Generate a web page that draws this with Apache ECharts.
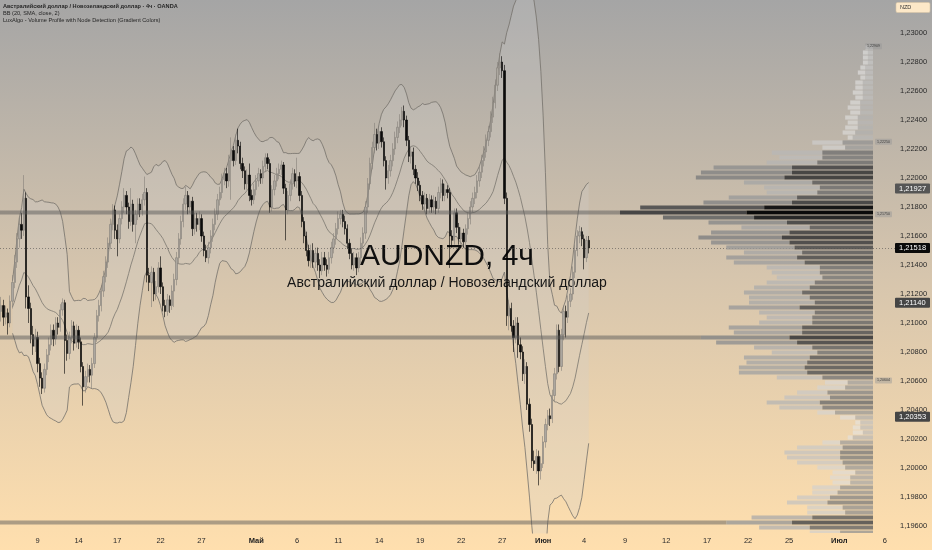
<!DOCTYPE html>
<html><head><meta charset="utf-8">
<script src="https://cdn.jsdelivr.net/npm/echarts@6/dist/echarts.min.js"></script>
<style>html,body{margin:0;padding:0;overflow:hidden;}#c{width:932px;height:550px;}</style>
</head><body><div id="c"></div>
<script>
// ---- data: AUDNZD 4h candles [open, close, low, high] ----
const candles = [
[1.2108,1.2112,1.2101,1.2118],[1.2112,1.2104,1.2098,1.2116],[1.2104,1.2107,1.2099,1.2112],[1.2107,1.2100,1.2092,1.2110],
[1.2100,1.2115,1.2097,1.2119],[1.2115,1.2128,1.2110,1.2133],[1.2128,1.2142,1.2124,1.2147],[1.2142,1.2158,1.2138,1.2162],
[1.2158,1.2168,1.2152,1.2173],[1.2168,1.2164,1.2158,1.2176],[1.2164,1.2186,1.2160,1.2202],[1.2186,1.2118,1.2110,1.2190],
[1.2118,1.2110,1.2100,1.2126],[1.2110,1.2092,1.2086,1.2114],[1.2092,1.2084,1.2078,1.2098],[1.2084,1.2090,1.2080,1.2096],
[1.2090,1.2072,1.2066,1.2094],[1.2072,1.2062,1.2056,1.2076],[1.2062,1.2055,1.2051,1.2066],[1.2055,1.2068,1.2052,1.2072],
[1.2068,1.2078,1.2064,1.2082],[1.2078,1.2085,1.2073,1.2090],[1.2085,1.2095,1.2081,1.2099],[1.2095,1.2089,1.2084,1.2099],
[1.2089,1.2100,1.2085,1.2104],[1.2100,1.2097,1.2092,1.2104],[1.2097,1.2109,1.2094,1.2113],[1.2109,1.2114,1.2105,1.2117],
[1.2114,1.2088,1.2065,1.2116],[1.2088,1.2079,1.2074,1.2092],[1.2079,1.2090,1.2075,1.2094],[1.2090,1.2098,1.2086,1.2102],
[1.2098,1.2086,1.2081,1.2101],[1.2086,1.2095,1.2083,1.2099],[1.2095,1.2087,1.2082,1.2098],[1.2087,1.2070,1.2066,1.2090],
[1.2070,1.2056,1.2043,1.2073],[1.2056,1.2063,1.2052,1.2067],[1.2063,1.2068,1.2059,1.2072],[1.2068,1.2064,1.2059,1.2071],
[1.2064,1.2072,1.2055,1.2076],[1.2072,1.2090,1.2069,1.2093],[1.2090,1.2105,1.2087,1.2109],[1.2105,1.2112,1.2101,1.2116],
[1.2112,1.2122,1.2108,1.2126],[1.2122,1.2132,1.2118,1.2136],[1.2132,1.2142,1.2128,1.2146],[1.2142,1.2155,1.2138,1.2159],
[1.2155,1.2168,1.2151,1.2172],[1.2168,1.2178,1.2164,1.2182],[1.2178,1.2164,1.2158,1.2181],[1.2164,1.2158,1.2146,1.2168],
[1.2158,1.2172,1.2155,1.2175],[1.2172,1.2180,1.2168,1.2184],[1.2180,1.2188,1.2176,1.2193],[1.2188,1.2180,1.2175,1.2191],
[1.2180,1.2170,1.2165,1.2183],[1.2170,1.2182,1.2167,1.2193],[1.2182,1.2168,1.2163,1.2185],[1.2168,1.2175,1.2155,1.2178],
[1.2175,1.2182,1.2171,1.2186],[1.2182,1.2178,1.2173,1.2186],[1.2178,1.2185,1.2174,1.2189],[1.2185,1.2190,1.2181,1.2201],
[1.2190,1.2133,1.2128,1.2193],[1.2133,1.2128,1.2122,1.2138],[1.2128,1.2135,1.2111,1.2139],[1.2135,1.2120,1.2115,1.2138],
[1.2120,1.2125,1.2116,1.2129],[1.2125,1.2138,1.2121,1.2142],[1.2138,1.2125,1.2120,1.2146],[1.2125,1.2112,1.2108,1.2128],
[1.2112,1.2108,1.2104,1.2116],[1.2108,1.2116,1.2105,1.2120],[1.2116,1.2112,1.2107,1.2119],[1.2112,1.2122,1.2109,1.2126],
[1.2122,1.2130,1.2111,1.2134],[1.2130,1.2145,1.2126,1.2149],[1.2145,1.2158,1.2141,1.2162],[1.2158,1.2170,1.2154,1.2174],
[1.2170,1.2182,1.2166,1.2186],[1.2182,1.2188,1.2178,1.2194],[1.2188,1.2180,1.2175,1.2191],[1.2180,1.2184,1.2176,1.2188],
[1.2184,1.2165,1.2160,1.2187],[1.2165,1.2172,1.2161,1.2176],[1.2172,1.2168,1.2163,1.2176],[1.2168,1.2172,1.2164,1.2177],
[1.2172,1.2160,1.2156,1.2175],[1.2160,1.2150,1.2146,1.2163],[1.2150,1.2145,1.2142,1.2154],[1.2145,1.2152,1.2141,1.2156],
[1.2152,1.2160,1.2148,1.2164],[1.2160,1.2168,1.2156,1.2172],[1.2168,1.2175,1.2164,1.2179],[1.2175,1.2185,1.2171,1.2189],
[1.2185,1.2190,1.2181,1.2194],[1.2190,1.2199,1.2186,1.2203],[1.2199,1.2203,1.2195,1.2207],[1.2203,1.2198,1.2193,1.2207],
[1.2198,1.2212,1.2194,1.2216],[1.2212,1.2219,1.2185,1.2228],[1.2219,1.2212,1.2208,1.2222],[1.2212,1.2226,1.2209,1.2230],
[1.2226,1.2222,1.2217,1.2234],[1.2222,1.2210,1.2206,1.2225],[1.2210,1.2205,1.2200,1.2214],[1.2205,1.2196,1.2192,1.2208],
[1.2196,1.2202,1.2192,1.2206],[1.2202,1.2188,1.2184,1.2210],[1.2188,1.2185,1.2181,1.2192],[1.2185,1.2192,1.2182,1.2196],
[1.2192,1.2198,1.2188,1.2202],[1.2198,1.2203,1.2194,1.2207],[1.2203,1.2200,1.2196,1.2206],[1.2200,1.2208,1.2196,1.2212],
[1.2208,1.2214,1.2204,1.2217],[1.2214,1.2210,1.2206,1.2217],[1.2210,1.2180,1.2176,1.2213],[1.2180,1.2192,1.2177,1.2195],
[1.2192,1.2198,1.2188,1.2202],[1.2198,1.2203,1.2194,1.2207],[1.2203,1.2206,1.2199,1.2210],[1.2206,1.2209,1.2202,1.2212],
[1.2209,1.2193,1.2189,1.2211],[1.2193,1.2178,1.2157,1.2196],[1.2178,1.2188,1.2175,1.2191],[1.2188,1.2196,1.2184,1.2199],
[1.2196,1.2203,1.2192,1.2207],[1.2203,1.2198,1.2194,1.2206],[1.2198,1.2201,1.2193,1.2214],[1.2201,1.2188,1.2184,1.2204],
[1.2188,1.2170,1.2166,1.2191],[1.2170,1.2160,1.2155,1.2173],[1.2160,1.2150,1.2146,1.2163],[1.2150,1.2143,1.2139,1.2154],
[1.2143,1.2150,1.2138,1.2154],[1.2150,1.2142,1.2138,1.2155],[1.2142,1.2148,1.2138,1.2152],[1.2148,1.2140,1.2136,1.2152],
[1.2140,1.2136,1.2131,1.2144],[1.2136,1.2145,1.2133,1.2149],[1.2145,1.2140,1.2136,1.2149],[1.2140,1.2137,1.2132,1.2144],
[1.2137,1.2145,1.2134,1.2149],[1.2145,1.2152,1.2141,1.2156],[1.2152,1.2158,1.2148,1.2162],[1.2158,1.2165,1.2154,1.2169],
[1.2165,1.2172,1.2161,1.2177],[1.2172,1.2175,1.2168,1.2178],[1.2175,1.2170,1.2166,1.2178],[1.2170,1.2165,1.2161,1.2174],
[1.2165,1.2155,1.2151,1.2168],[1.2155,1.2148,1.2144,1.2158],[1.2148,1.2140,1.2137,1.2151],[1.2140,1.2145,1.2136,1.2149],
[1.2145,1.2138,1.2133,1.2148],[1.2138,1.2145,1.2135,1.2149],[1.2145,1.2155,1.2141,1.2159],[1.2155,1.2162,1.2151,1.2166],
[1.2162,1.2180,1.2158,1.2184],[1.2180,1.2196,1.2176,1.2200],[1.2196,1.2210,1.2192,1.2214],[1.2210,1.2221,1.2206,1.2225],
[1.2221,1.2230,1.2217,1.2238],[1.2230,1.2224,1.2219,1.2234],[1.2224,1.2232,1.2220,1.2236],[1.2232,1.2225,1.2221,1.2235],
[1.2225,1.2212,1.2208,1.2228],[1.2212,1.2200,1.2192,1.2215],[1.2200,1.2205,1.2196,1.2209],[1.2205,1.2212,1.2201,1.2216],
[1.2212,1.2220,1.2208,1.2224],[1.2220,1.2228,1.2216,1.2232],[1.2228,1.2235,1.2224,1.2239],[1.2235,1.2240,1.2231,1.2244],
[1.2240,1.2246,1.2236,1.2249],[1.2246,1.2240,1.2235,1.2250],[1.2240,1.2226,1.2222,1.2243],[1.2226,1.2215,1.2211,1.2229],
[1.2215,1.2218,1.2210,1.2222],[1.2218,1.2206,1.2202,1.2221],[1.2206,1.2200,1.2196,1.2209],[1.2200,1.2195,1.2191,1.2204],
[1.2195,1.2188,1.2184,1.2198],[1.2188,1.2182,1.2178,1.2191],[1.2182,1.2186,1.2178,1.2190],[1.2186,1.2179,1.2175,1.2189],
[1.2179,1.2185,1.2176,1.2189],[1.2185,1.2180,1.2176,1.2188],[1.2180,1.2184,1.2176,1.2188],[1.2184,1.2179,1.2175,1.2187],
[1.2179,1.2190,1.2176,1.2194],[1.2190,1.2196,1.2186,1.2200],[1.2196,1.2188,1.2184,1.2199],[1.2188,1.2192,1.2184,1.2196],
[1.2192,1.2190,1.2186,1.2195],[1.2190,1.2160,1.2138,1.2193],[1.2160,1.2157,1.2152,1.2164],[1.2157,1.2176,1.2154,1.2179],
[1.2176,1.2166,1.2162,1.2179],[1.2166,1.2158,1.2154,1.2169],[1.2158,1.2162,1.2154,1.2166],[1.2162,1.2156,1.2152,1.2165],
[1.2156,1.2165,1.2153,1.2168],[1.2165,1.2172,1.2161,1.2176],[1.2172,1.2180,1.2168,1.2184],[1.2180,1.2186,1.2176,1.2190],
[1.2186,1.2190,1.2182,1.2194],[1.2190,1.2198,1.2186,1.2202],[1.2198,1.2204,1.2194,1.2208],[1.2204,1.2212,1.2200,1.2216],
[1.2212,1.2218,1.2208,1.2222],[1.2218,1.2226,1.2214,1.2230],[1.2226,1.2232,1.2222,1.2236],[1.2232,1.2242,1.2228,1.2246],
[1.2242,1.2252,1.2238,1.2256],[1.2252,1.2264,1.2248,1.2268],[1.2264,1.2276,1.2260,1.2280],[1.2276,1.2280,1.2271,1.2286],
[1.2280,1.2274,1.2269,1.2284],[1.2274,1.2186,1.2182,1.2278],[1.2186,1.2105,1.2098,1.2190],[1.2105,1.2110,1.2095,1.2116],
[1.2110,1.2098,1.2094,1.2114],[1.2098,1.2090,1.2080,1.2102],[1.2090,1.2100,1.2086,1.2104],[1.2100,1.2085,1.2076,1.2104],
[1.2085,1.2080,1.2075,1.2090],[1.2080,1.2065,1.2060,1.2084],[1.2065,1.2070,1.2058,1.2075],[1.2070,1.2044,1.2040,1.2073],
[1.2044,1.2030,1.2025,1.2048],[1.2030,1.2005,1.2000,1.2034],[1.2005,1.2003,1.1998,1.2012],[1.2003,1.2008,1.1996,1.2013],
[1.2008,1.1998,1.1988,1.2012],[1.1998,1.2003,1.1992,1.2008],[1.2003,1.2018,1.2000,1.2022],[1.2018,1.2030,1.2014,1.2034],
[1.2030,1.2036,1.2026,1.2040],[1.2036,1.2034,1.2029,1.2041],[1.2034,1.2050,1.2031,1.2054],[1.2050,1.2065,1.2046,1.2069],
[1.2065,1.2095,1.2061,1.2099],[1.2095,1.2070,1.2066,1.2099],[1.2070,1.2092,1.2067,1.2096],[1.2092,1.2108,1.2088,1.2112],
[1.2108,1.2104,1.2090,1.2112],[1.2104,1.2115,1.2100,1.2119],[1.2115,1.2120,1.2111,1.2124],[1.2120,1.2135,1.2116,1.2139],
[1.2135,1.2150,1.2131,1.2154],[1.2150,1.2160,1.2146,1.2164],[1.2160,1.2163,1.2155,1.2167],[1.2163,1.2158,1.2153,1.2166],
[1.2158,1.2145,1.2137,1.2161],[1.2145,1.2157,1.2142,1.2160],[1.2157,1.21518,1.2148,1.2160]
];
const barCount = 393; // visible bars incl. empty future space
const tickIdx  = [16,34,51,70,88,112,130,148,166,184,202,220,238,256,274,292,310,328,346,368,388];
const tickText = ['9','14','17','22','27','Май','6','11','14','19','22','27','Июн','4','9','12','17','22','25','Июл','6'];
const monthTicks = ['Май','Июн','Июл'];
const priceTicks = [1.196,1.198,1.200,1.202,1.204,1.206,1.208,1.210,1.212,1.214,1.216,1.218,1.220,1.222,1.224,1.226,1.228,1.230];
const yMin = 1.195517, yMax = 1.232276;
const bbPeriod = 20, bbMult = 2, bbFirst = 5;
// volume profile rows (top -> bottom), total and inner part
const vpHigh = 1.22917, vpLow = 1.19538;
const vpTotal = [3,4,4,4,5,6,5,7,7,8,7,9,10,9,11,10,11,12,10,24,20,40,37,42,63,68,70,51,43,42,57,67,92,100,83,65,52,64,69,64,58,51,58,55,42,40,38,42,47,51,49,49,57,45,42,45,57,55,68,62,47,40,51,50,53,53,38,19,22,30,35,42,37,22,13,7,8,8,10,20,30,35,34,30,22,16,17,16,24,24,30,34,26,26,48,58,45,25];
const vpInner = [2,2,2,2,3,3,3,4,4,4,4,5,5,5,6,6,6,7,8,12,11,20,20,22,32,32,35,24,21,22,30,32,43,50,47,34,25,33,36,33,31,28,30,27,21,21,20,23,25,28,25,23,29,23,24,24,28,28,33,30,24,22,25,26,27,26,20,10,11,18,17,21,20,15,7,5,5,4,8,13,12,13,13,12,11,7,9,9,13,14,17,18,12,11,24,32,25,13];
const nodeRows = [33,58,95];
const lastPrice = 1.21518;
const axisBoxes = [[1.21927,'#555555'],[1.21518,'#0a0a0a'],[1.21140,'#454545'],[1.20353,'#454545']];
const vpLabels = [[1.22909,865],[1.22250,875],[1.21750,875],[1.20604,875]];
const legendLines = ['Австралийский доллар / Новозеландский доллар · 4ч · OANDA','BB (20, SMA, close, 2)','LuxAlgo - Volume Profile with Node Detection (Gradient Colors)'];

// ---- derived ----
const cats = Array.from({length: barCount}, (_, i) => String(i));
const tickMap = {}; tickIdx.forEach((t, j) => tickMap[t] = tickText[j]);
const closes = candles.map(c => c[1]);
const bbLower = [], bbWidth = [], bbBasis = [];
for (let i = 0; i < closes.length; i++) {
  if (i < bbFirst) { bbLower.push(null); bbWidth.push(null); bbBasis.push(null); continue; }
  const n = Math.min(bbPeriod, i + 1);
  const w = closes.slice(i - n + 1, i + 1);
  const m = w.reduce((a, b) => a + b, 0) / n;
  const sd = Math.sqrt(w.reduce((a, b) => a + (b - m) * (b - m), 0) / n);
  bbBasis.push(+m.toFixed(6));
  bbLower.push(+(m - bbMult * sd).toFixed(6));
  bbWidth.push(+(2 * bbMult * sd).toFixed(6));
}
const vpRows = vpTotal.length;
const vpStep = (vpHigh - vpLow) / vpRows;
const vpMax = Math.max(...vpTotal);
const FONT = 'Liberation Sans, Arial, sans-serif';

function shade(g, a) { g = Math.round(g); return 'rgba(' + g + ',' + g + ',' + g + ',' + a.toFixed(2) + ')'; }

const chart = echarts.init(document.getElementById('c'), null, {renderer: 'canvas'});
chart.setOption({
  animation: false,
  backgroundColor: {type: 'linear', x: 0, y: 0, x2: 0, y2: 1,
    colorStops: [{offset: 0, color: '#a5a5a5'}, {offset: 0.5, color: '#d6c5ad'}, {offset: 1, color: '#ffdfae'}]},
  grid: [
    {left: 0, right: 37, top: 0, bottom: 17, containLabel: false},
    {left: 0, right: 59, top: 0, bottom: 17, containLabel: false}
  ],
  xAxis: [
    {type: 'category', gridIndex: 0, data: cats, boundaryGap: true,
     axisLine: {show: false}, axisTick: {show: false}, splitLine: {show: false},
     axisLabel: {
       interval: (idx) => tickMap[idx] !== undefined,
       formatter: (v, idx) => { const t = tickMap[idx]; if (t === undefined) return ''; return monthTicks.includes(t) ? '{b|' + t + '}' : t; },
       fontSize: 7.5, color: '#2a2a2a', fontFamily: FONT, margin: 4,
       rich: {b: {fontWeight: 'bold', fontSize: 7.5, color: '#222', fontFamily: FONT}}
     }},
    {type: 'value', gridIndex: 1, inverse: true, min: 0, max: 345, show: false}
  ],
  yAxis: [
    {type: 'value', gridIndex: 0, position: 'right', min: yMin, max: yMax, scale: true,
     axisLine: {show: false}, axisTick: {show: false}, splitLine: {show: false},
     axisLabel: {customValues: priceTicks, formatter: v => v.toFixed(5).replace('.', ','),
       fontSize: 7.5, color: '#2b2b2b', fontFamily: FONT, margin: 5}},
    {type: 'value', gridIndex: 1, min: yMin, max: yMax, show: false}
  ],
  series: [
    {type: 'line', name: 'bbLower', data: bbLower, stack: 'bb', symbol: 'none', z: 1,
     lineStyle: {color: '#75716b', width: 0.8}},
    {type: 'line', name: 'bbBand', data: bbWidth, stack: 'bb', symbol: 'none', z: 1,
     lineStyle: {color: '#75716b', width: 0.8},
     areaStyle: {color: 'rgba(210,210,210,0.34)'}},
    {type: 'line', name: 'bbBasis', data: bbBasis, symbol: 'none', z: 1,
     lineStyle: {color: '#7a766f', width: 0.8},
     markLine: {symbol: 'none', silent: true, precision: 5, label: {show: false},
       lineStyle: {color: 'rgba(70,70,70,0.55)', type: [1, 2], width: 1},
       data: [{yAxis: lastPrice}]}},
    {type: 'candlestick', name: 'AUDNZD', data: candles, z: 3, barWidth: 1.8,
     itemStyle: {color: '#aca79f', color0: '#0b0b0b', borderColor: '#858079', borderColor0: '#000000', borderWidth: 0.6}},
    {type: 'custom', name: 'nodes', xAxisIndex: 1, yAxisIndex: 1, z: 4, clip: true,
     data: nodeRows.map(k => [k, vpTotal[k]]),
     renderItem: (params, api) => {
       const k = api.value(0), T = api.value(1);
       const p = vpHigh - (k + 0.5) * vpStep;
       const pr = api.coord([T, p]);
       const x0 = params.coordSys.x;
       return {type: 'rect', shape: {x: x0, y: pr[1] - 2, width: pr[0] - x0, height: 4},
         style: {fill: 'rgba(85,85,85,0.48)'}};
     }},
    {type: 'custom', name: 'profile', xAxisIndex: 1, yAxisIndex: 1, z: 5, clip: true,
     data: vpTotal.map((t, k) => [k, t, vpInner[k]]),
     renderItem: (params, api) => {
       const k = api.value(0), T = api.value(1), D = api.value(2);
       const top = vpHigh - k * vpStep, bot = top - vpStep;
       const pR = api.coord([0, top]);
       const pL = api.coord([T, bot]);
       const pS = api.coord([D, bot]);
       const h = pL[1] - pR[1] - 0.8;
       const r = T / vpMax;
       const a = 0.55 + 0.42 * r;
       const lightC = shade(235 - 170 * Math.pow(r, 1.3), a);
       const darkC = shade(225 - 215 * Math.pow(r, 0.7), Math.min(1, a + 0.08));
       return {type: 'group', children: [
         {type: 'rect', shape: {x: pL[0], y: pR[1] + 0.4, width: pS[0] - pL[0], height: h}, style: {fill: lightC}},
         {type: 'rect', shape: {x: pS[0], y: pR[1] + 0.4, width: pR[0] - pS[0], height: h}, style: {fill: darkC}}
       ]};
     }}
  ]
});

// ---- overlay texts and axis boxes positioned via the chart's scales ----
const g = [];
g.push({type: 'text', z: 2, x: 447, y: 257, style: {text: 'AUDNZD, 4ч', font: '30px ' + FONT, fill: '#0e0e0e', textAlign: 'center', textVerticalAlign: 'middle'}});
g.push({type: 'text', z: 2, x: 447, y: 283, style: {text: 'Австралийский доллар / Новозеландский доллар', font: '14px ' + FONT, fill: '#161616', textAlign: 'center', textVerticalAlign: 'middle'}});
legendLines.forEach((t, j) => g.push({type: 'text', z: 10, x: 3, y: 6 + j * 7,
  style: {text: t, font: (j === 0 ? '600 ' : '') + '5.6px ' + FONT, fill: '#262626', textVerticalAlign: 'middle'}}));
g.push({type: 'rect', z: 10, shape: {x: 896, y: 2.5, width: 34, height: 10, r: 1.5}, style: {fill: '#fde8c8', stroke: '#d8c6a8', lineWidth: 0.6}});
g.push({type: 'text', z: 11, x: 900, y: 7.5, style: {text: 'NZD', font: '5.5px ' + FONT, fill: '#333', textVerticalAlign: 'middle'}});
axisBoxes.forEach(([v, col]) => {
  const y = chart.convertToPixel({yAxisIndex: 0}, v);
  g.push({type: 'rect', z: 10, shape: {x: 895, y: y - 5, width: 35, height: 10, r: 1}, style: {fill: col}});
  g.push({type: 'text', z: 11, x: 899, y: y, style: {text: v.toFixed(5).replace('.', ','), font: '7.5px ' + FONT, fill: '#ffffff', textVerticalAlign: 'middle'}});
});
vpLabels.forEach(([v, x]) => {
  const y = chart.convertToPixel({yAxisIndex: 0}, v);
  g.push({type: 'rect', z: 10, shape: {x: x, y: y - 3, width: 17, height: 6, r: 1}, style: {fill: 'rgba(150,150,150,0.45)'}});
  g.push({type: 'text', z: 11, x: x + 8.5, y: y, style: {text: v.toFixed(5).replace('.', ','), font: '3.6px ' + FONT, fill: '#3a3a3a', textAlign: 'center', textVerticalAlign: 'middle'}});
});
chart.setOption({graphic: g});
</script>
</body></html>
